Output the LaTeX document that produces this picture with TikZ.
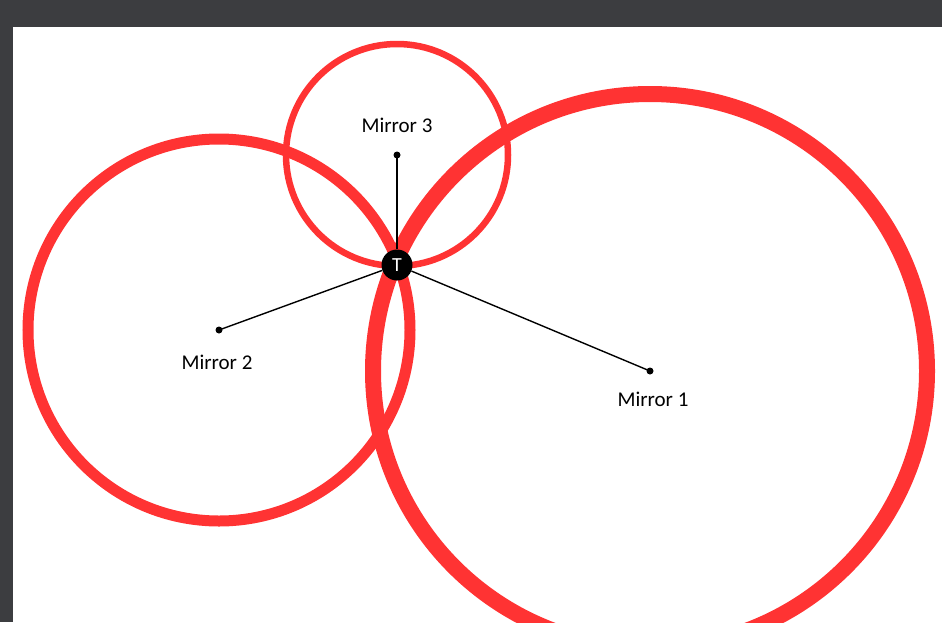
\documentclass[tikz,border=0pt]{standalone}
\usepackage{fontspec}
\setmainfont{Carlito}
\definecolor{ringred}{HTML}{FF3333}
\definecolor{frame}{HTML}{3C3D40}
\begin{document}
\begin{tikzpicture}[x=1pt,y=-1pt,
  ring/.style={draw=ringred},
  dot/.style={circle,fill=black,inner sep=0pt,minimum size=7pt},
  ray/.style={draw=black,line width=1.4pt},
  lbl/.style={font=\fontsize{21}{24}\selectfont,text=black},
  tnode/.style={circle,fill=black,inner sep=0pt,minimum size=31pt,text=white,font=\fontsize{20}{22}\selectfont}]
\useasboundingbox (0,0) rectangle (942,622);
\fill[frame] (0,0) rectangle (942,27);
\fill[frame] (0,0) rectangle (13,622);
\begin{scope}
\clip (13,27) rectangle (942,622);
\draw[ring,line width=16pt] (650,371) circle[radius=277];
\draw[ring,line width=11pt] (219,330) circle[radius=191];
\draw[ring,line width=6.5pt] (397,155) circle[radius=111];
\end{scope}
\node[dot] (m1) at (650,371) {};
\node[dot] (m2) at (219,330) {};
\node[dot] (m3) at (397,155) {};
\node[tnode] (t) at (397,265) {T};
\draw[ray] (t) -- (m1.center);
\draw[ray] (t) -- (m2.center);
\draw[ray] (t) -- (m3.center);
\node[lbl] (l1) at (653,399) {Mirror 1};
\node[lbl] (l2) at (217,362) {Mirror 2};
\node[lbl] (l3) at (397,125) {Mirror 3};
\end{tikzpicture}
\end{document}
